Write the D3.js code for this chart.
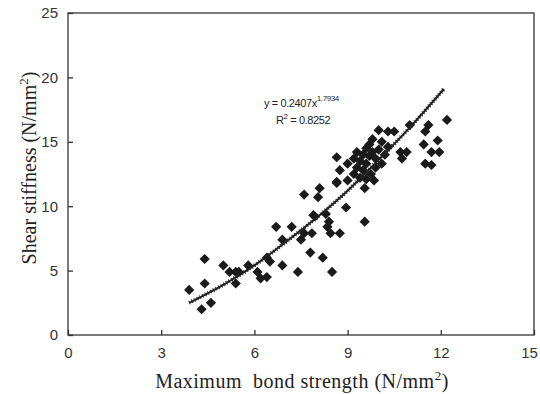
<!DOCTYPE html>
<html>
<head>
<meta charset="utf-8">
<script src="https://cdn.jsdelivr.net/npm/d3@7"></script>
<style>
  body { margin: 0; background: #fff; }
</style>
</head>
<body>
<div id="chart"></div>
<script>
// measured points: max bond strength (N/mm2) vs shear stiffness (N/mm2)
var bondStrength = [
  3.9, 4.3, 4.6, 4.4, 4.4, 5.0, 5.2, 5.4, 5.4, 5.5, 5.8, 6.1, 6.2, 6.4, 6.4, 6.5, 6.9, 7.4,
  6.7, 7.2, 6.9, 7.5, 7.6, 7.85, 7.8, 7.95, 7.6, 8.1, 8.05, 8.65, 7.9, 8.3, 8.4, 8.35, 8.75, 8.45, 8.95, 8.2, 8.5, 9.55,
  8.65, 9.0, 8.75, 8.65, 9.0, 9.55, 9.2, 9.3, 9.4, 9.5, 9.6, 9.7, 9.8, 9.5, 9.6, 9.7, 9.8, 9.9, 10.0, 10.1, 10.0, 10.3,
  9.9, 9.75, 9.4, 10.2, 9.3, 9.2, 9.85, 10.1, 10.3, 9.6,
  10.5, 10.7, 10.9, 10.75, 11.0,
  12.2, 11.6, 11.5, 11.9, 11.45, 11.7, 11.95, 11.5, 11.7
];
var shearStiffness = [
  3.5, 2.0, 2.5, 4.0, 5.9, 5.4, 4.9, 4.0, 4.9, 4.9, 5.4, 4.9, 4.4, 4.5, 6.0, 5.7, 5.4, 4.9,
  8.4, 8.4, 7.4, 7.4, 7.9, 7.9, 6.4, 9.2, 10.9, 11.4, 10.7, 11.8, 9.3, 9.4, 8.8, 8.4, 7.9, 7.9, 9.9, 6.0, 4.9, 8.8,
  13.8, 13.3, 12.8, 11.9, 12.0, 11.4, 12.5, 13.0, 13.5, 14.0, 14.5, 14.8, 15.2, 12.8, 13.3, 13.9, 14.2, 13.7, 14.4, 15.0, 15.9, 15.8,
  13.0, 12.5, 12.2, 14.0, 14.2, 13.7, 12.0, 13.3, 14.6, 12.1,
  15.8, 14.2, 14.2, 13.7, 16.3,
  16.7, 16.3, 15.8, 15.1, 14.8, 14.2, 14.2, 13.3, 13.2
];

// power trend line as drawn on the chart
var trendX = [3.9, 5, 6, 7, 8, 9, 10, 11, 12.1];
var trendY = [2.5, 3.9, 5.4, 7.2, 9.1, 11.2, 13.6, 16.1, 19.1];

var xTicks = [0, 3, 6, 9, 12, 15];
var yTicks = [0, 5, 10, 15, 20, 25];

const W = 540, H = 394;
const mLeft = 68, mRight = 534, mTop = 13, mBottom = 335;

const svg = d3.select("#chart")
  .append("svg")
  .attr("width", W)
  .attr("height", H);

const x = d3.scaleLinear().domain([0, 15]).range([mLeft, mRight]);
const y = d3.scaleLinear().domain([0, 25]).range([mBottom, mTop]);

// frame
svg.append("rect")
  .attr("x", mLeft).attr("y", mTop)
  .attr("width", mRight - mLeft).attr("height", mBottom - mTop)
  .attr("fill", "none").attr("stroke", "#333").attr("stroke-width", 1.3);

// axes with inward ticks
const xAxis = svg.append("g")
  .attr("transform", "translate(0," + mBottom + ")")
  .call(d3.axisBottom(x).tickValues(xTicks).tickSizeInner(-5).tickSizeOuter(0).tickPadding(12));
const yAxis = svg.append("g")
  .attr("transform", "translate(" + mLeft + ",0)")
  .call(d3.axisLeft(y).tickValues(yTicks).tickSizeInner(-5).tickSizeOuter(0).tickPadding(10));

[xAxis, yAxis].forEach(function(g) {
  g.select(".domain").remove();
  g.selectAll("line").attr("stroke", "#333").attr("stroke-width", 1.3);
  g.selectAll("text")
    .attr("fill", "#333")
    .style("font-family", "'Liberation Sans', Arial, sans-serif")
    .style("font-size", "15px");
});
xAxis.selectAll("text").attr("dy", "0.71em");
// keep the last label inside the window
xAxis.selectAll(".tick text").filter(function(d) { return d === 15; }).attr("dx", -5);

// scatter points as diamonds
var pts = bondStrength.map(function(d, i) { return [d, shearStiffness[i]]; });
const diamond = d3.symbol().type(d3.symbolSquare).size(52);
svg.append("g")
  .selectAll("path")
  .data(pts)
  .enter()
  .append("path")
  .attr("d", diamond)
  .attr("transform", function(d) { return "translate(" + x(d[0]) + "," + y(d[1]) + ") rotate(45)"; })
  .attr("fill", "#1a1a1a");

// trend line
var line = d3.line()
  .x(function(d) { return x(d[0]); })
  .y(function(d) { return y(d[1]); })
  .curve(d3.curveCatmullRom);
var trend = trendX.map(function(d, i) { return [d, trendY[i]]; });
svg.append("path")
  .datum(trend)
  .attr("d", line)
  .attr("fill", "none")
  .attr("stroke", "#222")
  .attr("stroke-width", 2);
svg.append("path")
  .datum(trend)
  .attr("d", line)
  .attr("fill", "none")
  .attr("stroke", "#222")
  .attr("stroke-width", 4)
  .attr("stroke-dasharray", "1,2");

// equation
const eq = svg.append("g")
  .style("font-family", "'Liberation Sans', Arial, sans-serif")
  .style("font-size", "11px")
  .style("letter-spacing", "-0.4px")
  .attr("fill", "#222");
var t1 = eq.append("text").attr("x", 264).attr("y", 107);
t1.append("tspan").text("y = 0.2407x");
t1.append("tspan").attr("dy", -6).style("font-size", "8px").text("1.7934");
var t2 = eq.append("text").attr("x", 276).attr("y", 124);
t2.append("tspan").text("R");
t2.append("tspan").attr("dy", -5).style("font-size", "8px").text("2");
t2.append("tspan").attr("dy", 5).text(" = 0.8252");

// axis titles
svg.append("text")
  .attr("x", 302).attr("y", 388)
  .attr("text-anchor", "middle")
  .style("font-family", "'Liberation Serif', 'Times New Roman', serif")
  .style("font-size", "20px")
  .style("letter-spacing", "0.5px")
  .attr("fill", "#222")
  .html("Maximum&#160; bond strength (N/mm<tspan dy='-8' font-size='13px'>2</tspan><tspan dy='8'>)</tspan>");

svg.append("text")
  .attr("transform", "translate(36,168) rotate(-90)")
  .attr("text-anchor", "middle")
  .style("font-family", "'Liberation Serif', 'Times New Roman', serif")
  .style("font-size", "20px")
  .attr("fill", "#222")
  .html("Shear stiffness (N/mm<tspan dy='-8' font-size='13px'>2</tspan><tspan dy='8'>)</tspan>");
</script>
</body>
</html>
